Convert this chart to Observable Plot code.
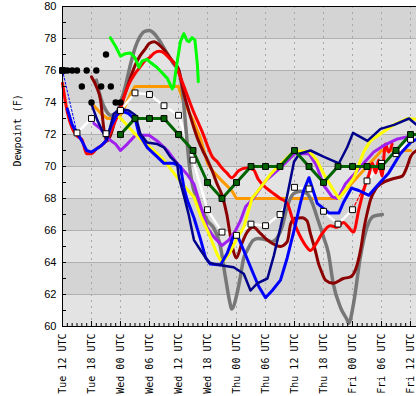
<!DOCTYPE html>
<html><head><meta charset="utf-8">
<script src="https://cdn.jsdelivr.net/npm/d3@7"></script>
<script src="https://cdn.jsdelivr.net/npm/@observablehq/plot@0.6"></script>
<style>
html,body{margin:0;padding:0;background:#fff;}
</style>
</head><body><div id="chart"></div>
<script>
// x positions are hours since Tue 12 UTC
const xTickHours = [0,6,12,18,24,30,36,42,48,54,60,66,72];
const xTickLabels = ["Tue 12 UTC","Tue 18 UTC","Wed 00 UTC","Wed 06 UTC","Wed 12 UTC","Wed 18 UTC","Thu 00 UTC","Thu 06 UTC","Thu 12 UTC","Thu 18 UTC","Fri 00 UTC","Fri 06 UTC","Fri 12 UTC"];
const yTicks = [60,62,64,66,68,70,72,74,76,78,80];
const xMax = 73.24;

// observations (black dots)
const obs = [[0,76],[1,76],[2,76],[3,76],[4,75],[5,76],[6,74],[7,76],[8,75],[9,77],[10,75],[11,74],[12,74]];

const red = [[0,75.2],[1,73.4],[2,72.4],[3,71.9],[4,71.7],[5,70.8],[6,70.8],[7,71.1],[8,71.3],[9,71.6],[10,72.2],[11,72.9],[12,73.6],[13,74.6],[14,75.3],[15,75.8],[16,76.2],[17,76.6],[18,76.8],[19,77.1],[20,77.2],[21,77.1],[22,76.8],[23,76.5],[24,75.9],[25,75.1],[26,74.3],[27,73.5],[28,72.8],[29,72.1],[30,71.3],[31,70.6],[32,70.3],[33,69.9],[34,69.6],[35,69.3],[36.5,69.75],[38,69.9],[39.5,69.8],[40.5,69.2],[42.4,68.6],[43.7,68.3],[45.1,68.0],[46.5,67.7],[47.5,66.8],[48.6,66.0],[50.3,65.06],[51.3,64.75],[52.5,65.2],[53.7,65.8],[55.4,66.3],[56.8,66.2],[58.1,66.5],[59.2,66.2],[60.2,65.9],[61.3,67.3],[62.3,68.5],[63.4,69.5],[64.1,70.2],[64.8,69.6],[65.4,70.4],[66.1,69.4],[66.8,71.4],[67.5,70.9],[68.2,71.4]];

const darkred = [[6,75.6],[7,75.0],[7.9,74.1],[8.3,73.0],[8.6,72.25],[9.2,71.6],[10,72.0],[11,73.0],[12,73.8],[13,74.6],[14,75.5],[15,76.3],[16,76.9],[17,77.3],[18,77.7],[19,77.8],[20,77.6],[21,77.3],[22,76.9],[23,76.5],[24,76.1],[25,74.7],[26,73.6],[27,72.6],[28,71.7],[29,71.0],[30,70.4],[31,69.7],[32,68.9],[33,68.2],[34,67.0],[35,65.2],[36,64.3],[37,65.1],[38,65.8],[39.5,66.2],[41,65.8],[42.4,65.4],[44,65.1],[45.1,65.0],[46.5,65.3],[47.2,66.4],[48,66.75],[49.6,66.8],[50.6,66.6],[51.3,65.8],[52.3,64.75],[53,63.9],[53.5,63.5],[54.4,62.9],[56,62.7],[58.1,63.0],[59.6,63.1],[61,63.9],[61.8,65.0],[62.3,66.0],[63.2,67.3],[63.7,67.9],[64.8,68.6],[65.8,68.9],[68.5,69.25],[70.3,69.4],[71.3,70.0],[72,70.6],[73.24,71.0]];

const gray = [[7,75.4],[8,74.2],[9,73.5],[10,73.2],[11,73.3],[12,74.0],[13,75.0],[14,76.3],[15,77.4],[16,78.1],[17,78.45],[18,78.5],[19,78.3],[20,77.9],[21,77.4],[22,76.9],[23,76.4],[24,76.0],[24.8,74.75],[25.5,72.5],[26.2,70.2],[27,68.7],[27.7,68.1],[28.4,67.5],[29.2,67.06],[30,66.6],[31.2,66.2],[32.7,64.96],[33.7,63.1],[34.7,61.4],[35,61.1],[36.1,62.05],[36.8,63.1],[37.5,64.3],[38.2,64.75],[39.5,65.4],[40.5,65.5],[42.4,65.4],[43.2,65.3],[44,65.4],[45.4,66.2],[46.5,67.5],[47.8,68.3],[49.2,68.46],[50.6,68.3],[51.7,67.7],[52.7,66.8],[54,65.6],[55,64.6],[56,62.7],[57.5,61.2],[58.9,60.4],[59.2,60.2],[60.2,61.4],[61.6,64.3],[63,66.2],[64.4,66.9],[66.2,67.0]];

const lime = [[9.9,78.05],[11,77.5],[12,76.9],[13,77.05],[14,77.1],[15,76.8],[15.8,76.2],[16.5,76.6],[17.5,76.7],[18.2,76.5],[19.5,76.2],[20.8,75.8],[21.7,75.5],[22.7,74.85],[23,75.0],[23.7,76.5],[24.4,77.8],[25.1,78.3],[25.8,77.85],[26.2,77.8],[26.8,78.05],[27.4,77.9],[27.9,76.4],[28.1,75.3]];

const orange = [[6.5,73.8],[8,73.3],[9.3,73.0],[10.7,73.0],[12,73.2],[13,73.8],[14,74.5],[15,75.0],[24,75.0],[25,74.1],[27,72.9],[28.5,71.8],[30,70.2],[31,69.75],[33,69.1],[35,68.5],[36,68.0],[57,68.0],[66,71.0],[72,71.0]];

const white = [[0,76],[3,72.1],[6,73.0],[9,72.05],[12,73.5],[15,74.6],[18,74.5],[21,73.8],[24,73.2],[27,70.4],[30,67.3],[33,65.9],[36,65.7],[39,66.4],[42,66.3],[45,67.0],[48,68.7],[51,68.6],[54,67.2],[57,66.4],[60,67.3],[63,69.1],[66,70.2],[69,70.8],[72,71.7]];

const dkgreen = [[12,72],[15,73],[18,73],[21,73],[24,72],[27,71],[30,69],[33,68],[36,69],[39,70],[42,70],[45,70],[48,71],[51,70],[54,69],[57,70],[60,70],[63,70],[66,70],[69,71],[72,72]];
const dkgreenTail = [[72,72],[73.24,72]];

const blue = [[1,73.6],[2,72.6],[3,72.1],[4,71.6],[5,71.0],[6,70.9],[7,71.1],[8,71.3],[9,71.6],[10,72.5],[11,73.1],[12,73.5],[13.7,73.3],[15.1,72.9],[15.8,72.05],[17.5,71.2],[19.6,70.6],[21,70.2],[23,70.2],[24.4,70.0],[25.1,68.7],[25.8,67.9],[27.2,66.8],[28.6,65.4],[29.6,64.3],[30.6,63.9],[32.7,63.85],[34.1,64.6],[35.3,65.6],[36.3,65.6],[37.5,64.75],[39.2,63.5],[40.6,62.5],[42,61.8],[43.4,62.25],[45.1,62.9],[46.5,64.3],[47.9,66.0],[49.2,67.7],[49.9,68.5],[51,69.3],[52.7,67.7],[55.1,67.1],[57.2,67.1],[58.2,67.8],[59.8,68.65],[61.3,68.5],[63.4,68.2],[65.1,68.8],[67.5,69.6],[69.9,70.8],[72,71.5],[73.24,71.7]];

const navy = [[6,73.9],[7.2,72.9],[8.2,72.25],[9.2,71.7],[10.6,73.3],[12,73.6],[13.7,73.5],[15.1,73.2],[16.1,72.05],[17.5,71.5],[19.6,71.4],[21,71.2],[22.3,70.6],[23.7,70.2],[24.1,69.3],[25.1,68.2],[26.1,67.0],[27.2,65.4],[28.6,64.75],[30.3,64.0],[31.5,63.9],[33.4,63.8],[35.4,63.7],[37.5,63.3],[38.9,62.25],[40.3,62.7],[42.4,63.0],[43.7,64.4],[45.1,66.2],[46.5,68.2],[47.9,70.3],[49,70.8],[51.3,71.0],[54.1,70.6],[57.2,70.2],[58.9,71.2],[60.1,72.1],[63.1,71.6],[65.8,72.35],[68.6,72.6],[71.7,73.0],[73.24,72.6]];

const purple = [[6.5,72.7],[7.9,72.35],[9.2,71.8],[11,71.4],[12,71.0],[13.4,71.4],[15.1,71.95],[17.9,71.95],[19.6,71.6],[21.7,71.0],[23.7,70.2],[25.8,69.5],[27.2,68.9],[28.6,67.5],[29.9,66.2],[31.3,65.6],[33,65.06],[34.4,65.4],[35.8,66.0],[36.8,66.6],[37.9,67.5],[39.2,67.9],[42,69.1],[45,69.9],[48,70.8],[51,70.8],[52.5,70.1],[54.1,68.8],[55.8,68.1],[57,68.0],[58.5,68.9],[60.3,69.5],[62.3,70.2],[64.4,70.9],[66.4,71.3],[69.1,71.7],[72,71.9]];

const yellow = [[11.7,73.1],[13,72.7],[14.8,72.1],[16.8,71.5],[18.9,71.0],[21,70.4],[23,69.6],[24.8,68.9],[27.2,68.1],[28.6,66.9],[30.3,65.8],[32,64.5],[33,64.0],[34.4,64.5],[36.1,65.5],[37.5,66.2],[39.2,68.0],[41,68.7],[43,69.5],[44.8,70.06],[47.9,70.96],[51,70.96],[52.6,70.4],[54.1,69.5],[55.7,68.7],[57.2,68.0],[58.9,68.7],[60.3,69.3],[62.3,70.9],[63.7,71.6],[65.8,72.05],[68.5,72.6],[71.3,73.0],[73.24,72.95]];

const bands = [[60,62,"#e3e3e3"],[62,64,"#d4d4d4"],[64,66,"#e3e3e3"],[66,68,"#d4d4d4"],[68,70,"#e3e3e3"],[70,72,"#d4d4d4"],[72,74,"#e3e3e3"],[74,76,"#d4d4d4"],[76,78,"#e3e3e3"],[78,80,"#d4d4d4"]];

const hourly = d3.range(0, 73, 1);
const yMinor = d3.range(60, 81, 1);

const X = d => d[0], Y = d => d[1];
const line = (data, stroke, w, extra = {}) => Plot.line(data, {x: X, y: Y, stroke, strokeWidth: w, ...extra});

const mono = "DejaVu Sans Mono, monospace";

const chart = Plot.plot({
  width: 416,
  height: 396,
  marginLeft: 62,
  marginRight: 0,
  marginTop: 6,
  marginBottom: 70,
  x: {domain: [0, xMax], axis: null},
  y: {domain: [60, 80], axis: null},
  style: {background: "white", overflow: "visible"},
  marks: [
    Plot.rect(bands, {x1: () => 0, x2: () => xMax, y1: d => d[0], y2: d => d[1], fill: d => d[2]}),
    Plot.ruleY(yTicks, {stroke: "#b0b0b0", strokeWidth: 1}),
    Plot.ruleX(xTickHours, {stroke: "#a8a8a8", strokeWidth: 1, strokeDasharray: "2,4"}),
    line(orange, "#ff9900", 3),
    line(white.slice(1, 21), "#ffffff", 2.5),
    line(white.slice(21), "#ffffff", 2.5),
    line(white.slice(0, 2), "#0000ff", 1, {strokeDasharray: "2,2"}),
    line(white.slice(20, 22), "#ff0000", 1.2, {strokeDasharray: "3,2"}),
    line(gray, "#777777", 3.5, {curve: "monotone-x"}),
    line(darkred, "#8b0000", 3, {curve: "monotone-x"}),
    line(red, "#ff0000", 3, {curve: "monotone-x"}),
    line(lime, "#00ff00", 3),
    line(purple, "#a020f0", 3),
    line(yellow, "#ffff00", 3),
    line(blue, "#0000ff", 3),
    line(navy, "#00008b", 2.5),
    line(dkgreen, "#006400", 3),
    line(dkgreenTail, "#006400", 3),
    Plot.dot(white, {x: X, y: Y, symbol: "square", r: 3.3, fill: "white", stroke: "black", strokeWidth: 1}),
    Plot.dot(dkgreen, {x: X, y: Y, symbol: "square", r: 3.3, fill: "#006400", stroke: "black", strokeWidth: 1}),
    Plot.dot(obs, {x: X, y: Y, r: 3.2, fill: "black"}),
    // axes
    Plot.ruleY([80], {stroke: "black", strokeWidth: 1}),
    Plot.ruleY([60], {stroke: "black", strokeWidth: 1}),
    Plot.ruleX([0], {stroke: "black", strokeWidth: 1}),
    Plot.axisY(yTicks, {anchor: "left", tickSize: 0, tickPadding: 6, fontSize: 11, fontFamily: "Liberation Sans, Arial, sans-serif", label: null}),
    Plot.axisY(yMinor, {anchor: "left", tickSize: 4, dx: 4, tickFormat: () => "", label: null}),
    Plot.axisX(hourly, {anchor: "bottom", tickSize: 3, dy: -3, tickFormat: () => "", label: null}),
    Plot.axisX(xTickHours, {anchor: "bottom", tickSize: 5, dy: -5, tickFormat: () => "", label: null}),
    Plot.axisX(xTickHours, {anchor: "bottom", tickSize: 0, tickPadding: 7, tickRotate: -90, fontSize: 10, fontFamily: mono, tickFormat: d => xTickLabels[xTickHours.indexOf(d)], label: null}),
    Plot.text(["Dewpoint (F)"], {frameAnchor: "left", rotate: -90, dx: -45, text: d => d, fontFamily: mono, fontSize: 10, fill: "black"})
  ]
});
document.getElementById("chart").appendChild(chart);
</script>
</body></html>
